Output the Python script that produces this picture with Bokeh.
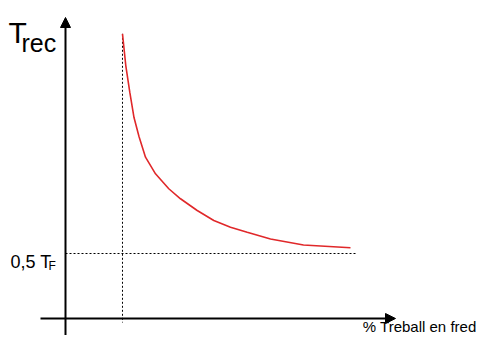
from bokeh.plotting import figure
from bokeh.models import Range1d, Arrow, NormalHead
from bokeh.core.properties import value
from bokeh.embed import file_html
from bokeh.resources import INLINE

# ---- data (x in % of cold work, y in units of T_F) ----
curve_x = [17.27, 18.27, 19.48, 20.76, 22.27, 24.24, 27.27, 31.30, 34.85, 39.91,
           44.94, 50.00, 55.06, 62.12, 72.12, 86.36]
curve_y = [2.190, 1.946, 1.741, 1.546, 1.400, 1.241, 1.113, 0.998, 0.921, 0.831,
           0.754, 0.702, 0.664, 0.612, 0.565, 0.544]
half_tf = 0.5
hline_end_x = 87.9
xaxis_label = "% Treball en fred"
yaxis_label_main = "T"
yaxis_label_sub = "rec"
tick_label_main = "0,5 T"
tick_label_sub = "F"

# ---- layout helpers (canvas pixel -> data) ----
SX, OX = 3.3, 65.0
SY, OY = 130.0, 318.0
def px2x(px):
    return (px - OX) / SX
def px2y(py):
    return (OY - py) / SY

W, H = 477, 335
p = figure(width=W, height=H,
           x_range=Range1d(px2x(0), px2x(W)),
           y_range=Range1d(px2y(H), px2y(0)),
           x_axis_type=None, y_axis_type=None,
           toolbar_location=None, output_backend="svg", min_border=0)
p.grid.visible = False
p.outline_line_color = None
p.background_fill_color = "white"
p.border_fill_color = "white"

FONT = value("Liberation Sans")

# dotted guide lines
p.line([curve_x[0], curve_x[0]], [curve_y[0], px2y(322)], line_color="black",
       line_width=1, line_dash="2 2")
p.line([0, hline_end_x], [half_tf, half_tf], line_color="black",
       line_width=1, line_dash="2 2")

# axes with arrows
p.add_layout(Arrow(x_start=0, y_start=px2y(338), x_end=0, y_end=px2y(17),
                   line_color="black", line_width=2,
                   end=NormalHead(size=10, fill_color="black", line_color="black", line_width=1)))
p.add_layout(Arrow(x_start=px2x(40), y_start=0, x_end=px2x(395), y_end=0,
                   line_color="black", line_width=2,
                   end=NormalHead(size=10, fill_color="black", line_color="black", line_width=1)))

# curve
p.line(curve_x, curve_y, line_color="#e0282a", line_width=1.6)

# labels
p.text(x=[px2x(8)], y=[px2y(32)], text=[yaxis_label_main], text_font=FONT,
       text_font_size="30px", text_baseline="alphabetic", text_align="left", text_color="black")
p.text(x=[px2x(21)], y=[px2y(42)], text=[yaxis_label_sub], text_font=FONT,
       text_font_size="25px", text_baseline="alphabetic", text_align="left", text_color="black")
p.text(x=[px2x(10)], y=[px2y(261)], text=[tick_label_main], text_font=FONT,
       text_font_size="18px", text_baseline="alphabetic", text_align="left", text_color="black")
p.text(x=[px2x(48)], y=[px2y(265)], text=[tick_label_sub], text_font=FONT,
       text_font_size="12px", text_baseline="alphabetic", text_align="left", text_color="black")
p.text(x=[px2x(476)], y=[px2y(334.5)], text=[xaxis_label], text_font=FONT,
       text_font_size="15px", text_baseline="bottom", text_align="right", text_color="black")

open("out.html", "w").write(file_html(p, INLINE))
